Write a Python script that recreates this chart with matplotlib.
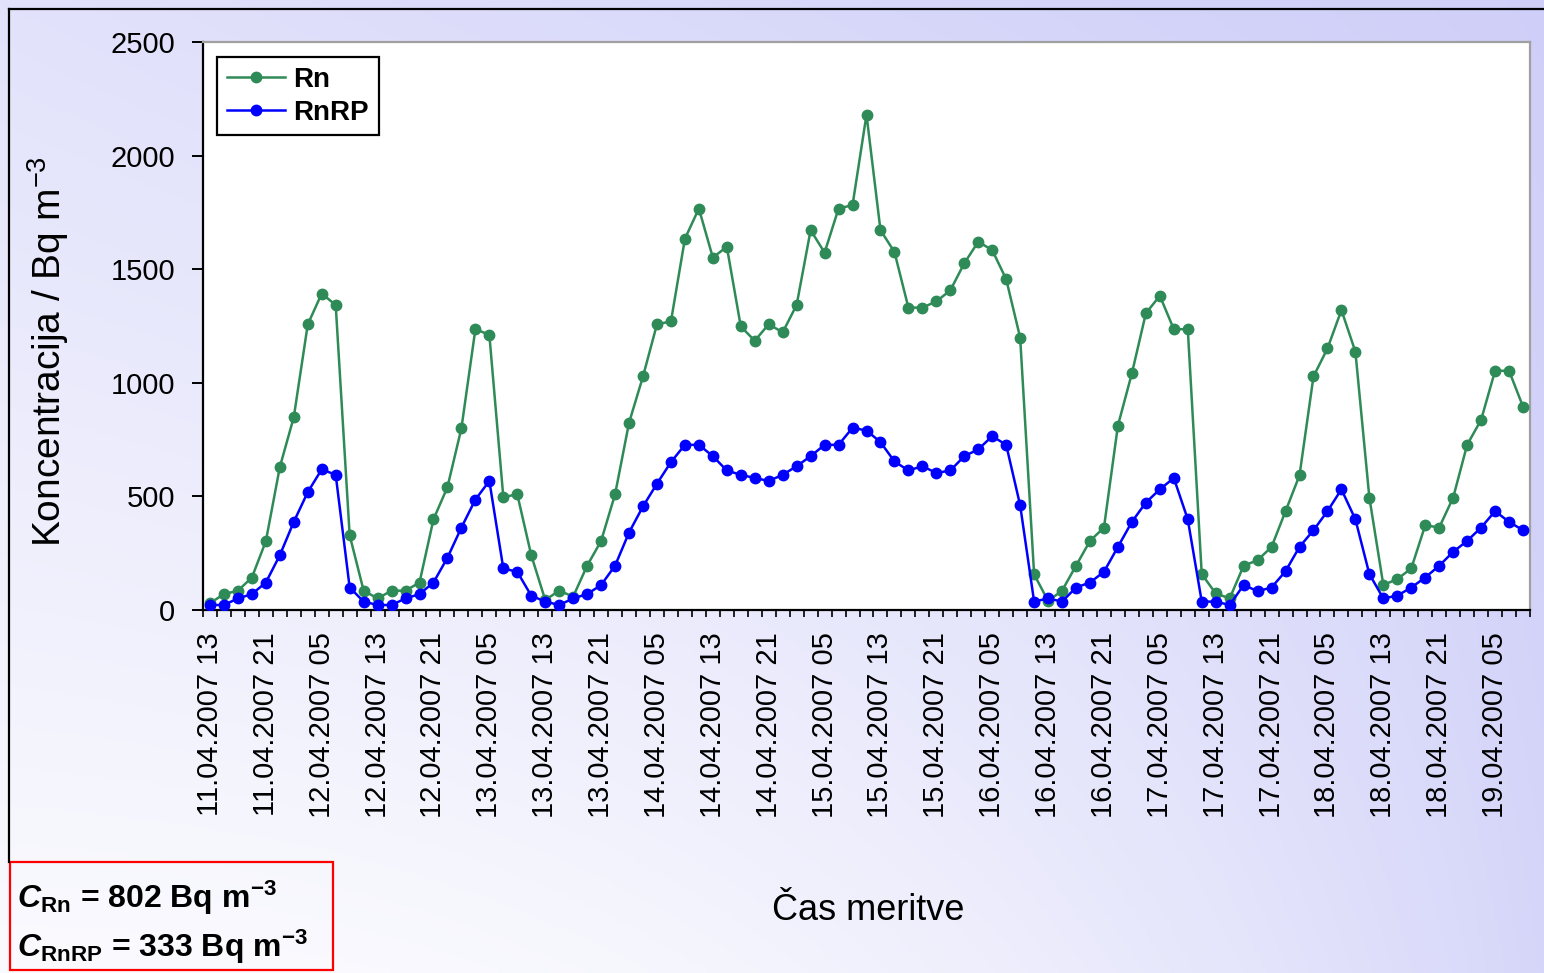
import numpy as np
import matplotlib
matplotlib.use("Agg")
import matplotlib.pyplot as plt
from matplotlib.lines import Line2D
from matplotlib.patches import Rectangle

# Radon concentration, 2-hour readings starting 11.04.2007 13:00
rn = [30, 70, 85, 143, 303, 629, 849, 1257, 1393, 1342, 329, 85, 51, 85, 85, 121, 399, 541, 800, 1236, 1211, 497, 509, 241,
      44, 85, 59, 195, 304, 509, 824, 1028, 1258, 1270, 1634, 1767, 1551, 1599, 1248, 1185, 1258, 1222, 1343, 1672, 1573, 1767, 1782, 2180,
      1672, 1576, 1331, 1331, 1358, 1407, 1526, 1621, 1584, 1456, 1199, 157, 40, 85, 195, 304, 363, 812, 1042, 1306, 1383, 1236, 1236,
      158, 73, 51, 195, 219, 278, 435, 593, 1028, 1151, 1320, 1137, 495, 110, 136, 183, 373, 363, 495, 727, 837, 1053, 1053, 895]
rnrp = [22, 22, 51, 70, 121, 241, 388, 519, 619, 595, 99, 37, 22, 22, 51, 70, 121, 230, 363, 486, 568, 183, 168, 63,
        37, 22, 51, 70, 110, 195, 341, 456, 556, 651, 727, 727, 677, 614, 595, 581, 568, 595, 633, 677, 727, 727, 802, 790,
        739, 654, 614, 633, 603, 614, 677, 707, 765, 727, 461, 37, 51, 37, 99, 121, 168, 278, 388, 473, 531, 581, 399,
        37, 37, 22, 110, 83, 99, 171, 278, 351, 435, 531, 399, 158, 51, 63, 99, 143, 195, 256, 304, 363, 435, 388, 351]

tick_labels = ["11.04.2007 13", "11.04.2007 21", "12.04.2007 05", "12.04.2007 13",
               "12.04.2007 21", "13.04.2007 05", "13.04.2007 13", "13.04.2007 21",
               "14.04.2007 05", "14.04.2007 13", "14.04.2007 21", "15.04.2007 05",
               "15.04.2007 13", "15.04.2007 21", "16.04.2007 05", "16.04.2007 13",
               "16.04.2007 21", "17.04.2007 05", "17.04.2007 13", "17.04.2007 21",
               "18.04.2007 05", "18.04.2007 13", "18.04.2007 21", "19.04.2007 05"]
label_step = 4  # one label per 8 hours

mean_rn = 802
mean_rnrp = 333

plt.rcParams["font.family"] = ["Liberation Sans", "DejaVu Sans"]
plt.rcParams["mathtext.fontset"] = "custom"
plt.rcParams["mathtext.rm"] = "Liberation Sans"
plt.rcParams["mathtext.it"] = "Liberation Sans:italic"
plt.rcParams["mathtext.bf"] = "Liberation Sans:bold"
plt.rcParams["mathtext.bfit"] = "Liberation Sans:bold:italic"

W, H = 1544, 973
fig = plt.figure(figsize=(W / 100, H / 100), dpi=100)

# soft lavender backdrop
bg = fig.add_axes([0, 0, 1, 1], zorder=-10)
gx = np.linspace(0, 1, 400)[None, :]
gy = np.linspace(0, 1, 260)[:, None]
t = (1 - gy) * (0.6 + 0.4 * gx) + gy * (0.10 + 0.75 * gx ** 2.5)
t = np.clip(t, 0, 1)
lav = np.array([0.81, 0.81, 0.975])
img = (1 - t[..., None]) * 1.0 + t[..., None] * lav
bg.imshow(img, extent=[0, 1, 0, 1], origin="upper", aspect="auto")
bg.set_xlim(0, 1)
bg.set_ylim(0, 1)
bg.axis("off")

# frame around the chart area
fig.add_artist(Line2D([9 / W, 1.0], [1 - 9 / H, 1 - 9 / H], color="black", lw=1.6))
fig.add_artist(Line2D([9 / W, 9 / W], [1 - 9 / H, 1 - 862 / H], color="black", lw=1.6))

ax = fig.add_axes([203 / W, 1 - 610 / H, (1530 - 203) / W, (610 - 42) / H])
ax.set_facecolor("white")

x = np.arange(len(rn))
ax.plot(x, rn, color="#2E8B57", lw=1.8, marker="o", ms=7.5, label="Rn", zorder=3)
ax.plot(x, rnrp, color="#0000FF", lw=1.8, marker="o", ms=7.5, label="RnRP", zorder=4)

ax.set_xlim(-0.5, len(rn) - 0.5)
ax.set_ylim(0, 2500)
ax.set_yticks(np.arange(0, 2501, 500))
ax.tick_params(axis="y", direction="out", length=8, width=1.4, pad=12, labelsize=21)

ax.set_xticks(np.arange(0, len(rn), label_step)[:len(tick_labels)])
ax.set_xticklabels(tick_labels, rotation=90, fontsize=21, va="top", ha="center")
ax.tick_params(axis="x", which="major", length=0, pad=16)
ax.set_xticks(np.arange(-0.5, len(rn), 1), minor=True)
ax.tick_params(axis="x", which="minor", direction="out", length=5, width=1.2)

for s in ("left", "bottom"):
    ax.spines[s].set_color("black")
    ax.spines[s].set_linewidth(1.6)
for s in ("top", "right"):
    ax.spines[s].set_color("#A0A0A0")
    ax.spines[s].set_linewidth(1.6)

ax.set_ylabel(r"Koncentracija / Bq m$^{-3}$", fontsize=28)
ax.yaxis.label.set_verticalalignment("center")
ax.yaxis.set_label_coords(-0.117, 0.455)

fig.text(868 / W, 1 - 910 / H, "Čas meritve", fontsize=26, ha="center", va="center")

leg = ax.legend(loc="upper left", bbox_to_anchor=(0.0106, 0.9736), borderaxespad=0,
                fancybox=False, framealpha=1, edgecolor="black",
                prop={"size": 20, "weight": "bold"}, handlelength=2.1,
                handletextpad=0.3, labelspacing=0.25, borderpad=0.35)
leg.get_frame().set_linewidth(1.6)

# mean concentrations box
fig.add_artist(Rectangle((10 / W, 1 - 970 / H), (333 - 10) / W, (970 - 862) / H,
                         transform=fig.transFigure, fill=False, edgecolor="red", lw=1.6))
line1 = rf"$\mathbfit{{C}}_{{\mathbf{{Rn}}}}$ = {mean_rn} Bq m$^{{\mathbf{{-3}}}}$"
line2 = rf"$\mathbfit{{C}}_{{\mathbf{{RnRP}}}}$ = {mean_rnrp} Bq m$^{{\mathbf{{-3}}}}$"
fig.text(17 / W, 1 - 898 / H, line1, fontsize=23, fontweight="bold", ha="left", va="center")
fig.text(17 / W, 1 - 947 / H, line2, fontsize=23, fontweight="bold", ha="left", va="center")

fig.savefig("out.png", dpi=100)
